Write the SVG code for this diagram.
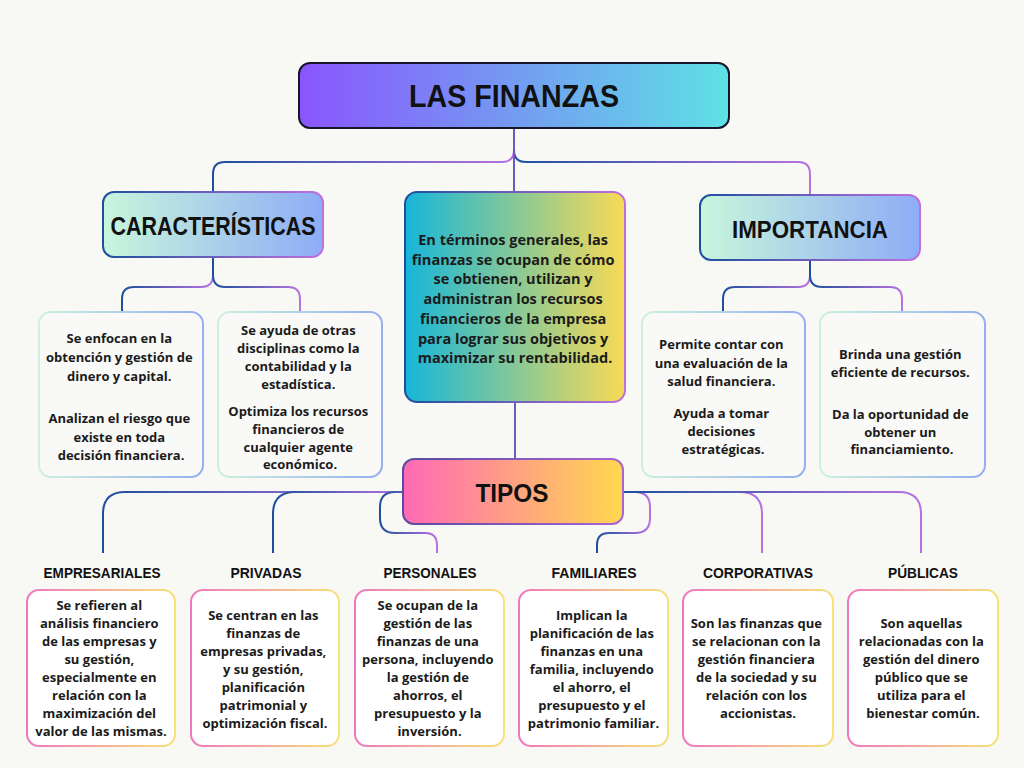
<svg xmlns="http://www.w3.org/2000/svg" width="1024" height="768" viewBox="0 0 1024 768">
<defs>
<linearGradient id="cg" x1="0" y1="0" x2="1" y2="0"><stop offset="0" stop-color="#1d4f9e"/><stop offset="1" stop-color="#b872e0"/></linearGradient>
<linearGradient id="gTitle" x1="0" y1="0" x2="1" y2="0"><stop offset="0" stop-color="#8a55fe"/><stop offset="1" stop-color="#5ee1e5"/></linearGradient>
<linearGradient id="gHead" x1="0" y1="0" x2="1" y2="0"><stop offset="0" stop-color="#c8f6dc"/><stop offset="1" stop-color="#8eacf6"/></linearGradient>
<linearGradient id="gCenter" x1="0" y1="0" x2="1" y2="0"><stop offset="0" stop-color="#16b6d9"/><stop offset="1" stop-color="#f8da55"/></linearGradient>
<linearGradient id="gTipos" x1="0" y1="0" x2="1" y2="0"><stop offset="0" stop-color="#ff69b6"/><stop offset="1" stop-color="#ffd84f"/></linearGradient>
<linearGradient id="sBluePurple" x1="0" y1="0" x2="1" y2="0"><stop offset="0" stop-color="#1d4f9e"/><stop offset="1" stop-color="#c070dc"/></linearGradient>
<linearGradient id="sTipos" x1="0" y1="0" x2="1" y2="0"><stop offset="0" stop-color="#5b4aa0"/><stop offset="1" stop-color="#a866d6"/></linearGradient>
<linearGradient id="sMint" x1="0" y1="0" x2="1" y2="0"><stop offset="0" stop-color="#cdf1df"/><stop offset="1" stop-color="#94aef0"/></linearGradient>
<linearGradient id="sPink" x1="0" y1="0" x2="1" y2="0"><stop offset="0" stop-color="#ee78bf"/><stop offset="1" stop-color="#f7e27a"/></linearGradient>
</defs>
<style>
.conn{fill:none;stroke:url(#cg);stroke-width:2}
.vconn{fill:none;stroke:#6a5cc0;stroke-width:2}
.head{font-family:"Liberation Sans",Arial,sans-serif;font-weight:700;fill:#111;text-anchor:middle}
.body{font-family:"Open Sans","Liberation Sans",sans-serif;font-weight:700;font-size:13px;fill:#1b1b1b;text-anchor:middle}
.ctext{font-family:"Open Sans","Liberation Sans",sans-serif;font-weight:700;font-size:14.5px;fill:#1b1b1b;text-anchor:middle}
.mint{fill:#f9f9f7;stroke:url(#sMint);stroke-width:2}
.pink{fill:#ffffff;stroke:url(#sPink);stroke-width:2}
.lbl{font-size:15px}
</style>
<rect width="1024" height="768" fill="#f8f8f5"/>

<g id="connectors">
<path class="conn" d="M514,128 V150 Q514,162 502,162 H225 Q213,162 213,174 V192"/>
<path class="conn" d="M514,128 V150 Q514,162 526,162 H798 Q810,162 810,174 V195"/>
<path class="vconn" d="M514,128 V192"/>
<path class="conn" d="M213,257 V275 Q213,287 201,287 H134 Q122,287 122,299 V312"/>
<path class="conn" d="M213,257 V275 Q213,287 225,287 H288 Q300,287 300,299 V312"/>
<path class="conn" d="M810,260 V275 Q810,287 798,287 H735 Q723,287 723,299 V312"/>
<path class="conn" d="M810,260 V275 Q810,287 822,287 H890 Q902,287 902,299 V312"/>
<path class="vconn" d="M515,402 V459"/>
<path class="conn" d="M403,492 H125 Q103,492 103,514 V553"/>
<path class="conn" d="M403,492 H295 Q273,492 273,514 V553"/>
<path class="conn" d="M403,492 H395 Q380,492 380,507 V518 Q380,533 395,533 H425 Q437,533 437,545 V553"/>
<path class="conn" d="M623,492 H635 Q650,492 650,507 V518 Q650,533 635,533 H609 Q597,533 597,545 V553"/>
<path class="conn" d="M623,492 H740 Q762,492 762,514 V553"/>
<path class="conn" d="M623,492 H899 Q921,492 921,514 V553"/>
</g>

<g id="title">
<rect x="299" y="63" width="430" height="65" rx="11" fill="url(#gTitle)" stroke="#16162a" stroke-width="2"/>
<text class="head" x="514" y="107" font-size="32" textLength="210" lengthAdjust="spacingAndGlyphs">LAS FINANZAS</text>
</g>

<g id="caracteristicas">
<rect x="103" y="192" width="220" height="65" rx="11" fill="url(#gHead)" stroke="url(#sBluePurple)" stroke-width="2"/>
<text class="head" x="213" y="235" font-size="25" textLength="205" lengthAdjust="spacingAndGlyphs">CARACTERÍSTICAS</text>
</g>

<g id="centro">
<rect x="405" y="192" width="220" height="210" rx="12" fill="url(#gCenter)" stroke="url(#sBluePurple)" stroke-width="2"/>
<text class="ctext">
<tspan x="515" y="245">En términos generales, las</tspan>
<tspan x="515" y="264.7">finanzas se ocupan de cómo</tspan>
<tspan x="515" y="284.4">se obtienen, utilizan y</tspan>
<tspan x="515" y="304.1">administran los recursos</tspan>
<tspan x="515" y="323.8">financieros de la empresa</tspan>
<tspan x="515" y="343.5">para lograr sus objetivos y</tspan>
<tspan x="515" y="363.2">maximizar su rentabilidad.</tspan>
</text>
</g>

<g id="importancia">
<rect x="700" y="195" width="220" height="65" rx="11" fill="url(#gHead)" stroke="url(#sBluePurple)" stroke-width="2"/>
<text class="head" x="810" y="238" font-size="24" textLength="156" lengthAdjust="spacingAndGlyphs">IMPORTANCIA</text>
</g>

<g id="car1">
<rect class="mint" x="39" y="312" width="164" height="165" rx="12"/>
<text class="body">
<tspan x="121" y="343">Se enfocan en la</tspan>
<tspan x="121" y="362">obtención y gestión de</tspan>
<tspan x="121" y="381">dinero y capital.</tspan>
<tspan x="121" y="423">Analizan el riesgo que</tspan>
<tspan x="121" y="442">existe en toda</tspan>
<tspan x="121" y="460">decisión financiera.</tspan>
</text>
</g>

<g id="car2">
<rect class="mint" x="218" y="312" width="164" height="165" rx="12"/>
<text class="body">
<tspan x="300" y="335">Se ayuda de otras</tspan>
<tspan x="300" y="353">disciplinas como la</tspan>
<tspan x="300" y="371">contabilidad y la</tspan>
<tspan x="300" y="389">estadística.</tspan>
<tspan x="300" y="416">Optimiza los recursos</tspan>
<tspan x="300" y="434">financieros de</tspan>
<tspan x="300" y="452">cualquier agente</tspan>
<tspan x="300" y="469">económico.</tspan>
</text>
</g>

<g id="imp1">
<rect class="mint" x="642" y="312" width="163" height="165" rx="12"/>
<text class="body">
<tspan x="723" y="349">Permite contar con</tspan>
<tspan x="723" y="368">una evaluación de la</tspan>
<tspan x="723" y="386">salud financiera.</tspan>
<tspan x="723" y="418">Ayuda a tomar</tspan>
<tspan x="723" y="436">decisiones</tspan>
<tspan x="723" y="454">estratégicas.</tspan>
</text>
</g>

<g id="imp2">
<rect class="mint" x="820" y="312" width="165" height="165" rx="12"/>
<text class="body">
<tspan x="902" y="359">Brinda una gestión</tspan>
<tspan x="902" y="377">eficiente de recursos.</tspan>
<tspan x="902" y="419">Da la oportunidad de</tspan>
<tspan x="902" y="437">obtener un</tspan>
<tspan x="902" y="454">financiamiento.</tspan>
</text>
</g>

<g id="tipos">
<rect x="403" y="459" width="220" height="65" rx="11" fill="url(#gTipos)" stroke="url(#sTipos)" stroke-width="2"/>
<text class="head" x="512" y="502" font-size="26" textLength="73" lengthAdjust="spacingAndGlyphs">TIPOS</text>
</g>

<g id="empresariales">
<text class="head lbl" x="102" y="578" textLength="117" lengthAdjust="spacingAndGlyphs">EMPRESARIALES</text>
<rect class="pink" x="27" y="590" width="148" height="156" rx="12"/>
<text class="body">
<tspan x="101" y="610">Se refieren al</tspan>
<tspan x="101" y="628">análisis financiero</tspan>
<tspan x="101" y="646">de las empresas y</tspan>
<tspan x="101" y="664">su gestión,</tspan>
<tspan x="101" y="682">especialmente en</tspan>
<tspan x="101" y="700">relación con la</tspan>
<tspan x="101" y="718">maximización del</tspan>
<tspan x="101" y="736">valor de las mismas.</tspan>
</text>
</g>

<g id="privadas">
<text class="head lbl" x="266" y="578" textLength="71" lengthAdjust="spacingAndGlyphs">PRIVADAS</text>
<rect class="pink" x="191" y="590" width="148" height="156" rx="12"/>
<text class="body">
<tspan x="265" y="620">Se centran en las</tspan>
<tspan x="265" y="638">finanzas de</tspan>
<tspan x="265" y="656">empresas privadas,</tspan>
<tspan x="265" y="674">y su gestión,</tspan>
<tspan x="265" y="692">planificación</tspan>
<tspan x="265" y="710">patrimonial y</tspan>
<tspan x="265" y="728">optimización fiscal.</tspan>
</text>
</g>

<g id="personales">
<text class="head lbl" x="430" y="578" textLength="93" lengthAdjust="spacingAndGlyphs">PERSONALES</text>
<rect class="pink" x="355" y="590" width="149" height="156" rx="12"/>
<text class="body">
<tspan x="429.5" y="610">Se ocupan de la</tspan>
<tspan x="429.5" y="628">gestión de las</tspan>
<tspan x="429.5" y="646">finanzas de una</tspan>
<tspan x="429.5" y="664">persona, incluyendo</tspan>
<tspan x="429.5" y="682">la gestión de</tspan>
<tspan x="429.5" y="700">ahorros, el</tspan>
<tspan x="429.5" y="718">presupuesto y la</tspan>
<tspan x="429.5" y="736">inversión.</tspan>
</text>
</g>

<g id="familiares">
<text class="head lbl" x="594" y="578" textLength="85" lengthAdjust="spacingAndGlyphs">FAMILIARES</text>
<rect class="pink" x="519" y="590" width="149" height="156" rx="12"/>
<text class="body">
<tspan x="593.5" y="620">Implican la</tspan>
<tspan x="593.5" y="638">planificación de las</tspan>
<tspan x="593.5" y="656">finanzas en una</tspan>
<tspan x="593.5" y="674">familia, incluyendo</tspan>
<tspan x="593.5" y="692">el ahorro, el</tspan>
<tspan x="593.5" y="710">presupuesto y el</tspan>
<tspan x="593.5" y="728">patrimonio familiar.</tspan>
</text>
</g>

<g id="corporativas">
<text class="head lbl" x="758" y="578" textLength="110" lengthAdjust="spacingAndGlyphs">CORPORATIVAS</text>
<rect class="pink" x="683" y="590" width="150" height="156" rx="12"/>
<text class="body">
<tspan x="758" y="628">Son las finanzas que</tspan>
<tspan x="758" y="646">se relacionan con la</tspan>
<tspan x="758" y="664">gestión financiera</tspan>
<tspan x="758" y="682">de la sociedad y su</tspan>
<tspan x="758" y="700">relación con los</tspan>
<tspan x="758" y="718">accionistas.</tspan>
</text>
</g>

<g id="publicas">
<text class="head lbl" x="923" y="578" textLength="70" lengthAdjust="spacingAndGlyphs">PÚBLICAS</text>
<rect class="pink" x="848" y="590" width="150" height="156" rx="12"/>
<text class="body">
<tspan x="923" y="628">Son aquellas</tspan>
<tspan x="923" y="646">relacionadas con la</tspan>
<tspan x="923" y="664">gestión del dinero</tspan>
<tspan x="923" y="682">público que se</tspan>
<tspan x="923" y="700">utiliza para el</tspan>
<tspan x="923" y="718">bienestar común.</tspan>
</text>
</g>
</svg>
